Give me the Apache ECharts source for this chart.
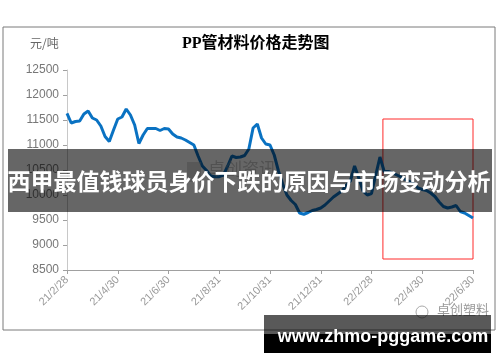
<!DOCTYPE html>
<html>
<head>
<meta charset="utf-8">
<script src="https://cdn.jsdelivr.net/npm/echarts@6/dist/echarts.min.js"></script>
<style>html,body{margin:0;padding:0;background:#fff;}#c{width:500px;height:362px;}</style>
</head>
<body>
<div id="c"></div>
<script>
// Tick labels shown on the x axis (every 12 samples)
var tickLabels = ['21/2/28','21/4/30','21/6/30','21/8/31','21/10/31','21/12/31','22/2/28','22/4/30','22/6/30'];
// PP pipe material price (元/吨), sampled at equal steps between ticks
var prices = [
  11633,11440,11470,11480,11620,11680,11540,11500,11380,11170,11070,11300,
  11520,11560,11720,11600,11400,11030,11200,11330,11330,11330,11290,11330,
  11320,11220,11160,11140,11100,11050,11000,10780,10580,10490,10380,10367,
  10367,10400,10580,10780,10750,10760,10790,10920,11340,11420,11140,11020,
  11000,10800,10480,10220,10000,9890,9810,9640,9615,9650,9690,9710,
  9740,9800,9880,9960,10020,10080,10190,10280,10580,10340,10080,10000,
  10030,10400,10760,10470,10470,10440,10400,10360,10310,10270,10230,10140,
  10110,10090,10040,9970,9860,9770,9740,9760,9790,9670,9640,9590,
  9540
];
// Highlighted region (x in sample index, y in 元/吨)
var boxX = [74.7, 96];
var boxY = [8720, 11520];

var titleText = 'PP管材料价格走势图';
var unitText = '元/吨';
var bannerText = '西甲最值钱球员身价下跌的原因与市场变动分析';
var siteText = 'www.zhmo-pggame.com';
var wmText = '卓创塑料';
var wmText2 = '卓创资讯';

var chart = echarts.init(document.getElementById('c'));
var step = 12;
chart.setOption({
  backgroundColor: '#fff',
  animation: false,
  grid: {left: 67, right: 27, top: 70, bottom: 92},
  xAxis: {
    type: 'value', min: 0, max: (tickLabels.length - 1) * step, interval: step,
    splitLine: {show: false},
    axisLine: {show: true, lineStyle: {color: '#a0a0a0', width: 1}},
    axisTick: {show: true, length: 4, lineStyle: {color: '#a0a0a0'}},
    axisLabel: {
      rotate: 45, color: '#999', fontSize: 11, fontFamily: 'Liberation Sans', margin: 8,
      formatter: function (v) { return tickLabels[Math.round(v / step)] || ''; }
    }
  },
  yAxis: {
    type: 'value', min: 8500, max: 12500, interval: 500,
    splitLine: {show: false},
    axisLine: {show: true, lineStyle: {color: '#c8c8c8', width: 1}},
    axisTick: {show: true, length: 4, lineStyle: {color: '#a0a0a0'}},
    axisLabel: {color: '#777', fontSize: 12, fontFamily: 'Liberation Sans', margin: 8,
      formatter: function (v) { return String(v); }}
  },
  series: [{
    type: 'line',
    data: prices.map(function (v, i) { return [i, v]; }),
    showSymbol: false,
    lineStyle: {color: '#0a72c2', width: 3},
    z: 2,
    markArea: {
      silent: true,
      itemStyle: {color: 'rgba(0,0,0,0)', borderColor: '#ff2a2a', borderWidth: 1},
      data: [[{coord: [boxX[0], boxY[1]]}, {coord: [boxX[1], boxY[0]]}]]
    }
  }],
  graphic: [
    {type: 'rect', shape: {x: 3, y: 27, width: 492, height: 303}, style: {fill: 'none', stroke: '#7a7a7a', lineWidth: 1}, z: 1},
    {type: 'text', left: 182, top: 36, style: {text: titleText, font: 'bold 16px "Liberation Serif","Noto Sans CJK SC"', fill: '#000'}, z: 5},
    {type: 'text', left: 30, top: 37, style: {text: unitText, font: '12px "Noto Sans CJK SC"', fill: '#666'}, z: 5},
    {type: 'text', left: 208, top: 160, style: {text: wmText2, font: '17px "Noto Sans CJK SC"', fill: 'rgba(150,150,150,0.5)'}, z: 5},
    {type: 'rect', shape: {x: 187, y: 162, width: 14, height: 20}, style: {fill: 'rgba(170,170,170,0.4)'}, z: 5},
    {type: 'rect', shape: {x: 8, y: 149, width: 484, height: 63}, style: {fill: 'rgba(0,0,0,0.6)'}, z: 50},
    {type: 'text', x: 249, y: 181, style: {text: bannerText, font: 'bold 23px "Noto Sans CJK SC"', fill: '#fff', align: 'center', verticalAlign: 'middle'}, z: 51},
    {type: 'text', left: 437, top: 303, style: {text: wmText, font: '13px "Noto Sans CJK SC"', fill: '#999'}, z: 40},
    {type: 'circle', shape: {cx: 422, cy: 312, r: 6}, style: {fill: 'none', stroke: '#aaa', lineWidth: 1}, z: 40},
    {type: 'rect', shape: {x: 264, y: 315, width: 227, height: 38}, style: {fill: 'rgba(0,0,0,0.65)'}, z: 50},
    {type: 'rect', shape: {x: 264, y: 334, width: 227, height: 19}, style: {fill: '#000'}, z: 50},
    {type: 'text', x: 383, y: 337, style: {text: siteText, font: 'bold 18px "Liberation Sans"', fill: '#fff', align: 'center', verticalAlign: 'middle'}, z: 51}
  ]
});
</script>
</body>
</html>
